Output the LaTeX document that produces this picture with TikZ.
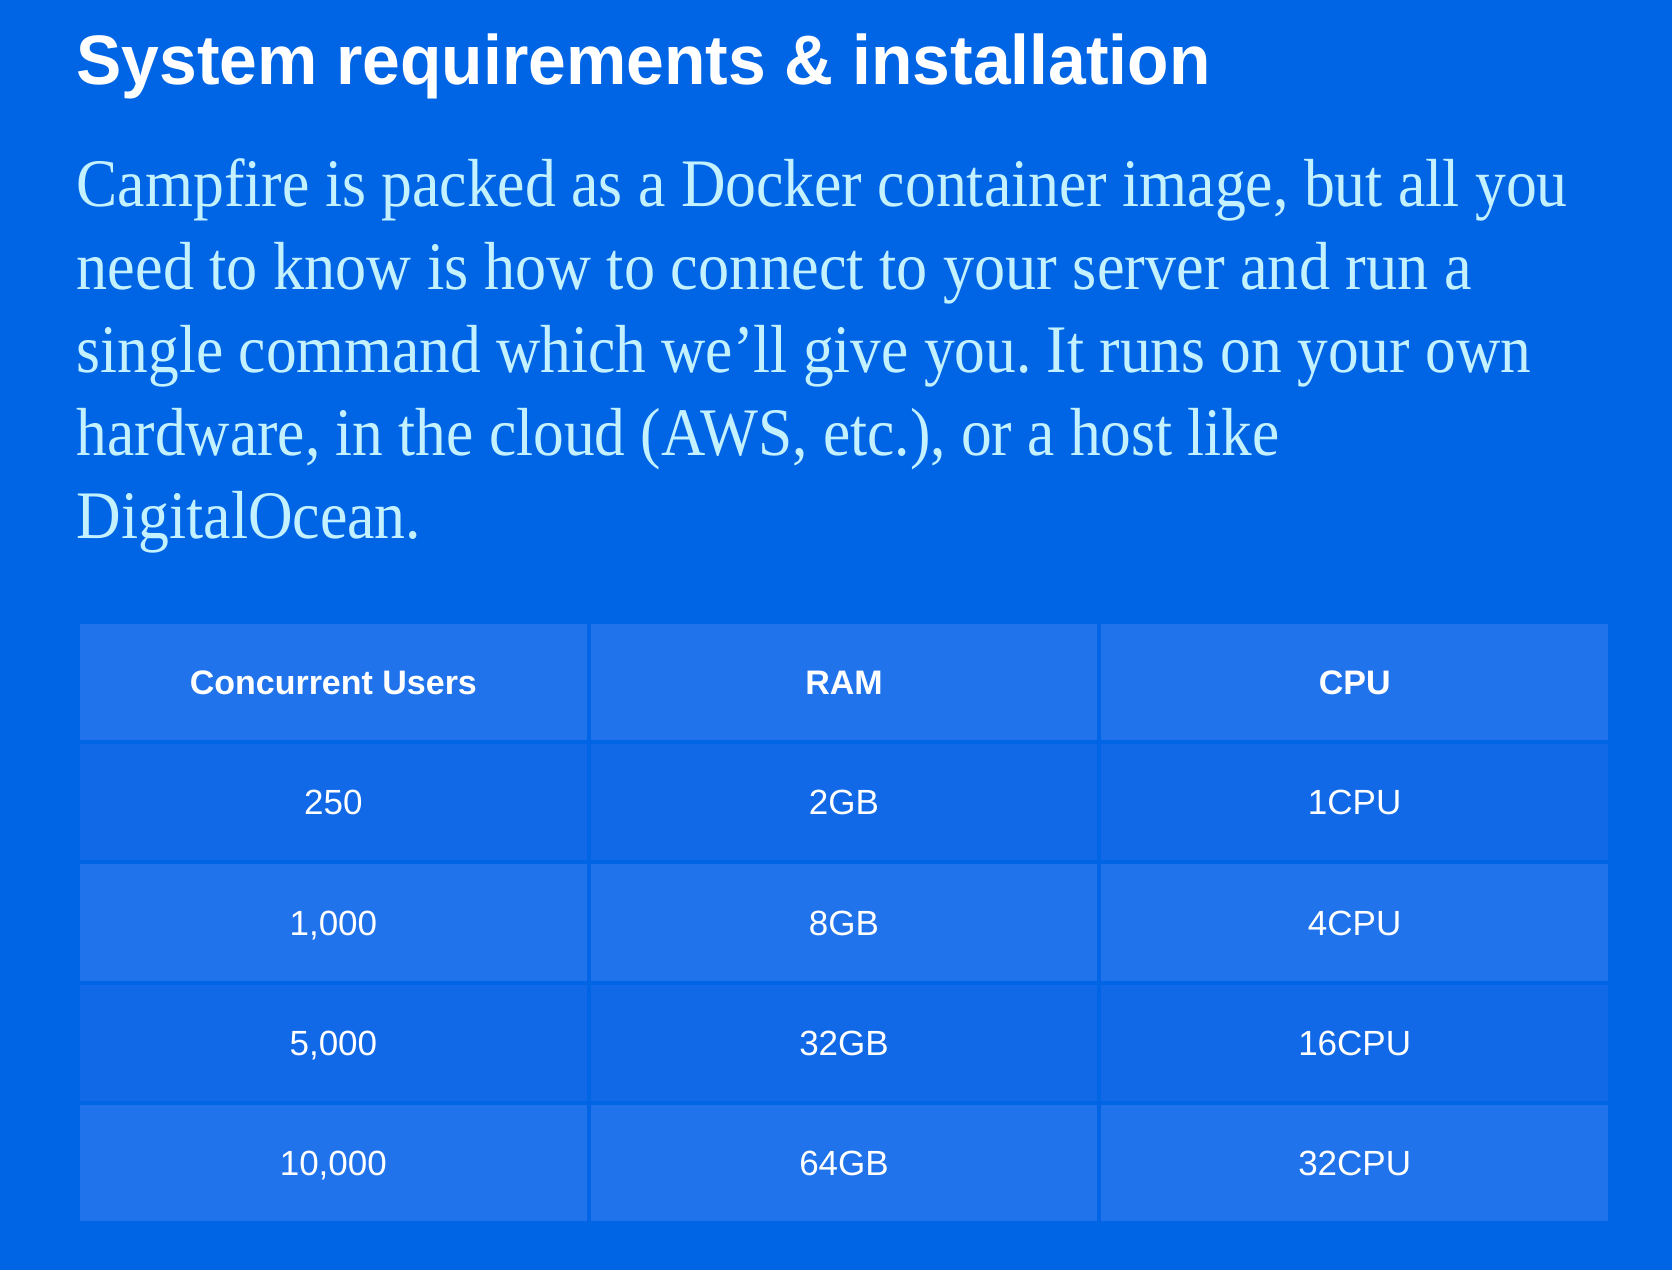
\documentclass[tikz,border=0pt]{standalone}
\usepackage{fontspec}
\usepackage{graphicx}
\setmainfont{Liberation Serif}
\setsansfont{Liberation Sans}
\frenchspacing
\definecolor{bgblue}{HTML}{0065E5}
\definecolor{celllight}{HTML}{2173EB}
\definecolor{celldark}{HTML}{1169E8}
\definecolor{paracol}{HTML}{C4F1FF}
\newcommand{\fitline}[2]{\resizebox{#1}{\height}{#2}}
\tikzset{
  txt/.style={anchor=base west, inner sep=0pt, outer sep=0pt},
  titletxt/.style={txt, text=white, font=\sffamily\bfseries\fontsize{70}{70}\selectfont},
  paratxt/.style={txt, text=paracol, font=\rmfamily\fontsize{68}{68}\selectfont},
  cell/.style={draw=none, inner sep=0pt, outer sep=0pt, minimum width=506.7pt, minimum height=116.2pt,
    text height=25pt, text depth=0pt, text=white, font=\sffamily\fontsize{35}{35}\selectfont},
  hcell/.style={cell, fill=celllight, font=\sffamily\bfseries\fontsize{34}{34}\selectfont},
  lcell/.style={cell, fill=celllight},
  dcell/.style={cell, fill=celldark},
}
\begin{document}
\begin{tikzpicture}[x=1pt, y=-1pt]
\fill[bgblue] (0,0) rectangle (1672,1270);
\useasboundingbox (0,0) rectangle (1672,1270);
% title
\node[titletxt] (title) at (76.5,84) {\fitline{1134pt}{System requirements \& installation}};
% paragraph
\node[paratxt] (p1) at (76.8,206) {\fitline{1490.7pt}{Campfire is packed as a Docker container image, but all you}};
\node[paratxt] (p2) at (76.8,289) {\fitline{1394.7pt}{need to know is how to connect to your server and run a}};
\node[paratxt] (p3) at (76.8,372) {\fitline{1454.2pt}{single command which we’ll give you. It runs on your own}};
\node[paratxt] (p4) at (76.8,455) {\fitline{1202.8pt}{hardware, in the cloud (AWS, etc.), or a host like}};
\node[paratxt] (p5) at (76.8,538) {\fitline{344.4pt}{DigitalOcean.}};
% table
\node[hcell] (h1) at (333.35,682.1) {Concurrent Users};
\node[hcell] (h2) at (844.0,682.1) {RAM};
\node[hcell] (h3) at (1354.65,682.1) {CPU};
\node[dcell] (a1) at (333.35,802.3) {250};
\node[dcell] (a2) at (844.0,802.3) {2GB};
\node[dcell] (a3) at (1354.65,802.3) {1CPU};
\node[lcell] (b1) at (333.35,922.5) {1,000};
\node[lcell] (b2) at (844.0,922.5) {8GB};
\node[lcell] (b3) at (1354.65,922.5) {4CPU};
\node[dcell] (c1) at (333.35,1042.7) {5,000};
\node[dcell] (c2) at (844.0,1042.7) {32GB};
\node[dcell] (c3) at (1354.65,1042.7) {16CPU};
\node[lcell] (d1) at (333.35,1162.9) {10,000};
\node[lcell] (d2) at (844.0,1162.9) {64GB};
\node[lcell] (d3) at (1354.65,1162.9) {32CPU};
\end{tikzpicture}
\end{document}
